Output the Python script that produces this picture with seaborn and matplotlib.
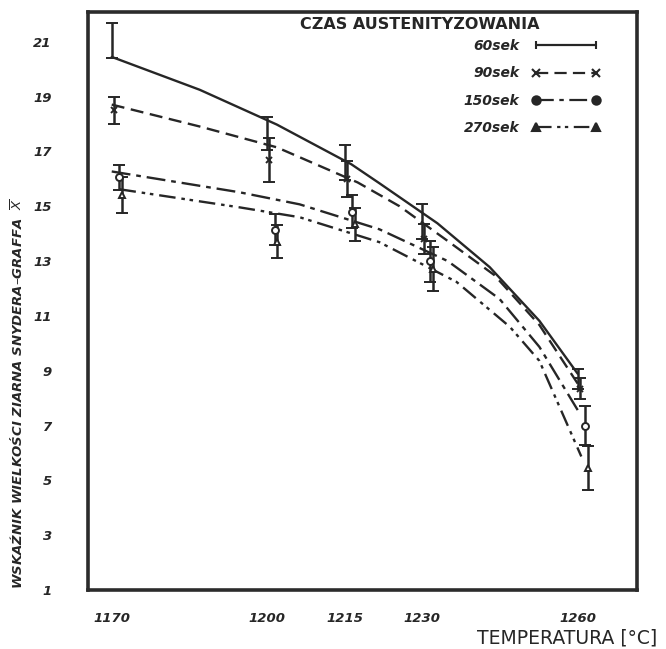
import matplotlib.pyplot as plt
import pandas as pd
import seaborn as sns
from matplotlib.lines import Line2D

sns.set_theme(style="white")
plt.rcParams["font.family"] = ["DejaVu Sans"]
plt.rcParams["mathtext.fontset"] = "dejavusans"

# measured points: mean grain index and +/- spread for each soaking time
temperatures = [1170, 1200, 1215, 1230, 1260]
series_names = ["60sek", "90sek", "150sek", "270sek"]

mean_60 = [21.05, 17.65, 16.6, 14.45, 8.7]
err_60 = [0.65, 0.6, 0.65, 0.65, 0.35]
mean_90 = [18.5, 16.7, 16.0, 13.8, 8.35]
err_90 = [0.5, 0.8, 0.65, 0.55, 0.4]
mean_150 = [16.05, 14.15, 14.8, 13.0, 7.0]
err_150 = [0.45, 0.55, 0.6, 0.75, 0.7]
mean_270 = [15.4, 13.7, 14.35, 12.7, 5.45]
err_270 = [0.65, 0.6, 0.6, 0.8, 0.8]

# hand-drawn fitted curves
curve_t_60 = [1170, 1187, 1201.9, 1216.3, 1221.7, 1232.9, 1243, 1252.6, 1260]
curve_v_60 = [20.45, 19.25, 17.98, 16.53, 15.84, 14.38, 12.78, 10.82, 8.89]
curve_t_90 = [1170, 1187, 1201.9, 1217.5, 1225.6, 1234.7, 1243.9, 1252.6, 1260]
curve_v_90 = [18.71, 17.91, 17.15, 15.87, 15.0, 13.76, 12.49, 10.67, 8.53]
curve_t_150 = [1170, 1194.7, 1206.3, 1221.7, 1234.9, 1244.9, 1252.6, 1260.4]
curve_v_150 = [16.27, 15.51, 15.07, 14.16, 13.0, 11.62, 9.87, 7.44]
curve_t_270 = [1171.5, 1194.7, 1206.3, 1221.7, 1236.6, 1246.9, 1252.6, 1260.7]
curve_v_270 = [15.62, 14.96, 14.6, 13.69, 12.24, 10.6, 9.36, 5.87]

y_ticks = [1, 3, 5, 7, 9, 11, 13, 15, 17, 19, 21]

INK = "#262626"
dash_styles = {
    "60sek": "",
    "90sek": (5.5, 2.8),
    "150sek": (8, 2.5, 2, 2.5),
    "270sek": (7, 2.5, 1.5, 2, 1.5, 2.5),
}
markers = {"60sek": "none", "90sek": "x", "150sek": "o", "270sek": "^"}
legend_markers = {"60sek": "|", "90sek": "x", "150sek": "o", "270sek": "^"}
dodge = {"60sek": 0.0, "90sek": 0.4, "150sek": 1.5, "270sek": 2.0}

points = {
    "60sek": (mean_60, err_60),
    "90sek": (mean_90, err_90),
    "150sek": (mean_150, err_150),
    "270sek": (mean_270, err_270),
}

curves = pd.concat([
    pd.DataFrame({"temperatura": curve_t_60, "wskaznik": curve_v_60, "czas": "60sek"}),
    pd.DataFrame({"temperatura": curve_t_90, "wskaznik": curve_v_90, "czas": "90sek"}),
    pd.DataFrame({"temperatura": curve_t_150, "wskaznik": curve_v_150, "czas": "150sek"}),
    pd.DataFrame({"temperatura": curve_t_270, "wskaznik": curve_v_270, "czas": "270sek"}),
], ignore_index=True)

fig = plt.figure(figsize=(6.66, 6.49), dpi=100)
ax = fig.add_axes([0.132, 0.091, 0.824, 0.891])

sns.lineplot(
    data=curves, x="temperatura", y="wskaznik", hue="czas", style="czas",
    palette={name: INK for name in series_names}, dashes=dash_styles,
    linewidth=1.7, estimator=None, sort=False, legend=False, ax=ax,
)

for name in series_names:
    means, errs = points[name]
    xs = [t + dodge[name] for t in temperatures]
    ax.errorbar(
        xs, means, yerr=errs, fmt=markers[name], color=INK, ecolor=INK,
        elinewidth=1.8, capsize=4.5, capthick=1.8, markersize=5,
        markerfacecolor="white", markeredgecolor=INK, markeredgewidth=1.4,
    )

ax.set_xlim(1165.4, 1271.4)
ax.set_ylim(1.05, 22.1)
ax.set_xticks(temperatures)
ax.set_xticklabels([str(t) for t in temperatures])
ax.set_yticks(y_ticks)
ax.set_yticklabels([str(v) for v in y_ticks])
ax.tick_params(axis="x", length=0, pad=16, labelsize=9.5, labelcolor=INK)
ax.tick_params(axis="y", length=0, pad=26, labelsize=9.5, labelcolor=INK)
for lab in ax.get_xticklabels() + ax.get_yticklabels():
    lab.set_fontweight("bold")
    lab.set_fontstyle("italic")

for spine in ax.spines.values():
    spine.set_linewidth(2.6)
    spine.set_color("#2b2b2b")

ax.set_ylabel("WSKAŹNIK WIELKOŚCI ZIARNA SNYDERA–GRAFFA  $\\overline{X}$",
              fontsize=9.5, fontweight="bold", fontstyle="italic", color=INK)
ax.yaxis.set_label_coords(-0.112, 0.34)
ax.set_xlabel("TEMPERATURA [°C]", fontsize=13.5, color=INK)
ax.xaxis.label.set_horizontalalignment("right")
ax.xaxis.set_label_coords(1.038, -0.066)

ax.text(0.386, 0.977, "CZAS AUSTENITYZOWANIA", transform=ax.transAxes,
        fontsize=11.5, fontweight="bold", color=INK, ha="left", va="center")

handles = []
for name in series_names:
    h = Line2D([0], [0], color=INK, linewidth=1.6,
               marker=legend_markers[name], markersize=6, markerfacecolor=INK,
               markeredgecolor=INK, markeredgewidth=1.5)
    if dash_styles[name]:
        h.set_dashes(dash_styles[name])
    handles.append(h)
leg = ax.legend(handles, series_names, loc="upper left", bbox_to_anchor=(0.675, 0.962),
                frameon=False, markerfirst=False, numpoints=2, handlelength=4.9,
                handletextpad=0.9, labelspacing=0.95, borderaxespad=0,
                prop={"size": 10, "weight": "bold", "style": "italic"})
for txt in leg.get_texts():
    txt.set_color(INK)

fig.savefig("out.png", dpi=100, facecolor="white")
